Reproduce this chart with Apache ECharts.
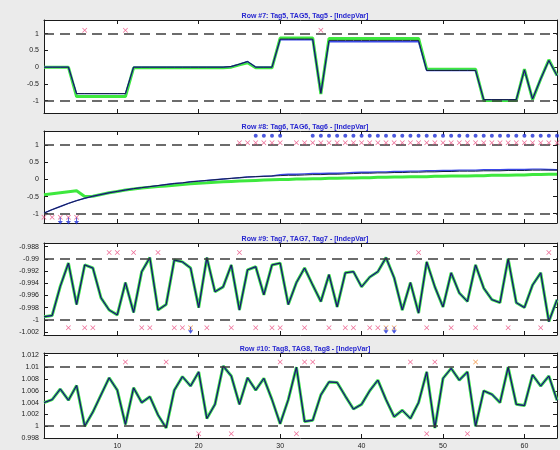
<!DOCTYPE html>
<html><head><meta charset="utf-8">
<script src="https://cdn.jsdelivr.net/npm/echarts@6/dist/echarts.min.js"></script>
<style>html,body{margin:0;padding:0;background:#ebebeb}#c{width:560px;height:450px}</style>
</head><body><div id="c"></div>
<script>
const titles = ['Row #7: Tag5, TAG5, Tag5 - [IndepVar]','Row #8: Tag6, TAG6, Tag6 - [IndepVar]','Row #9: Tag7, TAG7, Tag7 - [IndepVar]','Row #10: Tag8, TAG8, Tag8 - [IndepVar]'];
const xIndex = [1,2,3,4,5,6,7,8,9,10,11,12,13,14,15,16,17,18,19,20,21,22,23,24,25,26,27,28,29,30,31,32,33,34,35,36,37,38,39,40,41,42,43,44,45,46,47,48,49,50,51,52,53,54,55,56,57,58,59,60,61,62,63,64];
const xTicks = [10,20,30,40,50,60];
const yTicks7 = [-1,-0.5,0,0.5,1];
const yTicks8 = [-1,-0.5,0,0.5,1];
const yTicks9 = [-1.002,-1,-0.998,-0.996,-0.994,-0.992,-0.99,-0.988];
const yTicks10 = [0.998,1,1.002,1.004,1.006,1.008,1.01,1.012];
const limits7 = [-1,1], limits8 = [-1,1], limits9 = [-1,-0.99], limits10 = [1,1.01];

const row7Black = [0,0,0,0,-0.79,-0.79,-0.79,-0.79,-0.79,-0.79,-0.79,0,0,0,0,0,0,0,0,0,0,0,0,0.02,0.09,0.17,0,0,0,0.84,0.84,0.84,0.84,0.84,-0.78,0.8,0.8,0.8,0.8,0.8,0.8,0.8,0.8,0.8,0.8,0.8,0.8,-0.1,-0.1,-0.1,-0.1,-0.1,-0.1,-0.1,-0.97,-0.97,-0.97,-0.97,-0.97,-0.08,-0.95,-0.35,0.2,-0.25];
const row7Blue = [0,0,0,0,-0.79,-0.79,-0.79,-0.79,-0.79,-0.79,-0.79,0,0,0,0,0,0,0,0,0,0,0,0,0.02,0.09,0.17,0,0,0,0.82,0.82,0.82,0.82,0.82,-0.78,0.76,0.76,0.76,0.76,0.76,0.76,0.76,0.76,0.76,0.76,0.76,0.76,-0.1,-0.1,-0.1,-0.1,-0.1,-0.1,-0.1,-0.97,-0.97,-0.97,-0.97,-0.97,-0.08,-0.95,-0.35,0.2,-0.25];
const row7Green = [0,0,0,0,-0.88,-0.88,-0.88,-0.88,-0.88,-0.88,-0.88,-0.02,-0.02,-0.02,-0.02,-0.02,-0.02,-0.02,-0.02,-0.02,-0.02,-0.02,-0.02,0,0.07,0.13,-0.02,-0.02,-0.02,0.87,0.87,0.87,0.87,0.87,-0.8,0.86,0.86,0.86,0.86,0.86,0.86,0.86,0.86,0.86,0.86,0.86,0.86,-0.06,-0.06,-0.06,-0.06,-0.06,-0.06,-0.06,-1.0,-1.0,-1.0,-1.0,-1.0,-0.06,-0.97,-0.35,0.22,-0.25];

const row8Black = [-0.98,-0.88,-0.79,-0.7,-0.62,-0.55,-0.49,-0.44,-0.39,-0.35,-0.31,-0.27,-0.24,-0.21,-0.18,-0.15,-0.12,-0.1,-0.07,-0.05,-0.03,-0.01,0.01,0.03,0.05,0.07,0.08,0.09,0.1,0.11,0.12,0.12,0.13,0.14,0.14,0.15,0.15,0.16,0.17,0.18,0.18,0.19,0.19,0.2,0.2,0.21,0.21,0.22,0.22,0.23,0.23,0.24,0.24,0.24,0.25,0.25,0.25,0.26,0.26,0.26,0.27,0.27,0.27,0.27];
const row8Blue = [-0.98,-0.88,-0.79,-0.7,-0.62,-0.55,-0.49,-0.44,-0.39,-0.35,-0.31,-0.27,-0.24,-0.21,-0.18,-0.15,-0.12,-0.1,-0.07,-0.05,-0.03,-0.01,0.01,0.03,0.05,0.07,0.08,0.09,0.1,0.14,0.15,0.15,0.16,0.17,0.17,0.18,0.18,0.19,0.2,0.21,0.21,0.22,0.22,0.23,0.23,0.24,0.24,0.25,0.25,0.26,0.26,0.27,0.27,0.27,0.28,0.28,0.28,0.29,0.29,0.29,0.3,0.3,0.29,0.28];
const row8Green = [-0.45,-0.42,-0.39,-0.36,-0.33,-0.5,-0.49,-0.44,-0.39,-0.35,-0.31,-0.28,-0.25,-0.23,-0.21,-0.19,-0.17,-0.15,-0.13,-0.11,-0.1,-0.08,-0.07,-0.06,-0.05,-0.04,-0.03,-0.02,-0.01,0,0,0.01,0.01,0.02,0.02,0.03,0.03,0.04,0.04,0.05,0.05,0.06,0.06,0.07,0.07,0.08,0.08,0.08,0.09,0.09,0.1,0.1,0.1,0.11,0.11,0.12,0.12,0.12,0.13,0.13,0.14,0.14,0.15,0.15];

const row9 = [-0.9995,-0.9993,-0.9945,-0.9907,-0.9975,-0.991,-0.9915,-0.9964,-0.9984,-0.9992,-0.9939,-0.9988,-0.9921,-0.9898,-0.9984,-0.9975,-0.9902,-0.9905,-0.9915,-0.998,-0.9898,-0.9954,-0.9946,-0.991,-0.9984,-0.9918,-0.9913,-0.9959,-0.991,-0.9907,-0.9975,-0.9939,-0.9915,-0.9943,-0.997,-0.9926,-0.9979,-0.9923,-0.9921,-0.9946,-0.993,-0.9921,-0.9898,-0.9931,-0.9984,-0.9939,-0.9989,-0.9905,-0.9946,-0.9979,-0.9923,-0.9956,-0.997,-0.991,-0.9948,-0.9967,-0.9972,-0.99,-0.9972,-0.998,-0.9943,-0.9923,-1.0003,-0.9967];
const row10 = [1.004,1.0045,1.0063,1.0044,1.0069,1.0,1.0024,1.0053,1.0082,1.0061,1.0003,1.0065,1.004,1.005,1.0019,0.9997,1.0061,1.0084,1.0068,1.0092,1.0013,1.0037,1.0102,1.0085,1.0037,1.0082,1.0061,1.0081,1.0045,1.0004,1.0045,1.01,1.0008,1.001,1.0053,1.0075,1.0074,1.0051,1.0029,1.0037,1.006,1.0078,1.0045,1.0016,1.0027,1.0013,1.004,1.0092,0.9997,1.0081,1.0098,1.0078,1.0092,1.0,1.006,1.0054,1.004,1.01,1.0037,1.0035,1.0087,1.0068,1.0085,1.0044];

// marker positions (x index) and their levels
const m7RedTop = [6,11,35], m7RedTopLevel = 1.1;
const m8RedTop = [25,26,27,28,29,30,32,33,34,35,36,37,38,39,40,41,42,43,44,45,46,47,48,49,50,51,52,53,54,55,56,57,58,59,60,61,62,63,64], m8RedTopLevel = 1.07;
const m8BlueTop = [27,28,29,30,34,35,36,37,38,39,40,41,42,43,44,45,46,47,48,49,50,51,52,53,54,55,56,57,58,59,60,61,62,63,64], m8BlueTopLevel = 1.27;
const m8RedBot = [1,2,3,4,5], m8RedBotLevel = -1.1;
const m8BlueBot = [3,4,5], m8BlueBotLevel = -1.21;
const m9RedTop = [9,10,12,15,25,47,63], m9RedTopLevel = -0.98896;
const m9RedBot = [4,6,7,13,14,17,18,21,24,27,29,30,33,36,38,39,41,42,48,51,54,58,62], m9RedBotLevel = -1.0013;
const m9OrangeBot = [19,43,44];
const m9BlueBot = [19,43,44], m9BlueBotLevel = -1.0017;
const m10RedTop = [11,16,30,33,34,46,49], m10RedTopLevel = 1.01086;
const m10OrangeTop = [54];
const m10RedBot = [20,24,32,48,53], m10RedBotLevel = 0.9987;

const panels = [
  {top:20, height:93, min:-1.37, max:1.41, yTicks:yTicks7, lim:limits7,
   lines:[row7Green,row7Blue,row7Black],
   marks:[{xs:m7RedTop,lv:m7RedTopLevel,k:'red'}]},
  {top:131, height:92, min:-1.27, max:1.41, yTicks:yTicks8, lim:limits8,
   lines:[row8Green,row8Blue,row8Black],
   marks:[{xs:m8RedTop,lv:m8RedTopLevel,k:'red'},{xs:m8BlueTop,lv:m8BlueTopLevel,k:'dot'},{xs:m8RedBot,lv:m8RedBotLevel,k:'red'},{xs:m8BlueBot,lv:m8BlueBotLevel,k:'arrow'}]},
  {top:243, height:92, min:-1.0025, max:-0.9874, yTicks:yTicks9, lim:limits9,
   lines:[row9,row9,row9],
   marks:[{xs:m9RedTop,lv:m9RedTopLevel,k:'red'},{xs:m9RedBot,lv:m9RedBotLevel,k:'red'},{xs:m9OrangeBot,lv:m9RedBotLevel,k:'orange'},{xs:m9BlueBot,lv:m9BlueBotLevel,k:'arrow'}]},
  {top:353, height:89, min:0.998, max:1.0124, yTicks:yTicks10, lim:limits10,
   lines:[row10,row10,row10],
   marks:[{xs:m10RedTop,lv:m10RedTopLevel,k:'red'},{xs:m10OrangeTop,lv:m10RedTopLevel,k:'orange'},{xs:m10RedBot,lv:m10RedBotLevel,k:'red'}]}
];

const crossPath = 'path://M0,1L1,0L5,4L9,0L10,1L6,5L10,9L9,10L5,6L1,10L0,9L4,5Z';
const arrowPath = 'path://M4,0L6,0L6,6L10,6L5,12L0,6L4,6Z';
const markStyle = {
  red:{symbol:crossPath, symbolSize:5, color:'#e8457a'},
  orange:{symbol:crossPath, symbolSize:5, color:'#f08a30'},
  dot:{symbol:'circle', symbolSize:4, color:'#1f2fd6'},
  arrow:{symbol:arrowPath, symbolSize:[5,7], color:'#1f2fd6'}
};
const lineColors = ['#3ee83e','#3a48e8','#142040'];
const lineWidths = [3,1.4,1];
const axisColor = '#1a1a1a';
const font = 'Liberation Sans, Arial, sans-serif';

const grid=[], xAxis=[], yAxis=[], series=[], title=[];
panels.forEach((p,i)=>{
  grid.push({left:44, right:3, top:p.top, height:p.height, show:true, backgroundColor:'#ffffff', borderWidth:0, containLabel:false});
  title.push({text:titles[i], left:300, textAlign:'center', top:p.top-12,
    textStyle:{fontSize:7, fontWeight:'bold', color:'#2626d0', fontFamily:font}});
  ['bottom','top'].forEach((pos,j)=>{
    xAxis.push({type:'value', gridIndex:i, position:pos, min:1, max:64,
      axisLine:{show:true, onZero:false, lineStyle:{color:axisColor, width:1}},
      axisTick:{show:true, inside:true, length:4, customValues:xTicks, lineStyle:{color:axisColor}},
      axisLabel:{show:(i===3 && j===0), customValues:xTicks, fontSize:7, margin:5, color:'#222', fontFamily:font},
      splitLine:{show:false}});
  });
  ['left','right'].forEach((pos,j)=>{
    yAxis.push({type:'value', gridIndex:i, position:pos, min:p.min, max:p.max,
      axisLine:{show:true, onZero:false, lineStyle:{color:axisColor, width:1}},
      axisTick:{show:true, inside:true, length:4, customValues:p.yTicks, lineStyle:{color:axisColor}},
      axisLabel:{show:j===0, customValues:p.yTicks, fontSize:7, margin:5, color:'#222', fontFamily:font},
      splitLine:{show:false}});
  });
  p.lines.forEach((arr,k)=>{
    const s = {type:'line', xAxisIndex:2*i, yAxisIndex:2*i, data:xIndex.map((x,n)=>[x,arr[n]]),
      showSymbol:false, symbol:'none', lineStyle:{color:lineColors[k], width:lineWidths[k]}, z:2+k, silent:true};
    if(k===0){
      s.markLine = {silent:true, symbol:['none','none'], label:{show:false}, animation:false,
        lineStyle:{color:'#3c3c3c', type:[10,6], width:1.7},
        data:p.lim.map(v=>({yAxis:v}))};
    }
    series.push(s);
  });
  p.marks.forEach(m=>{
    const st = markStyle[m.k];
    series.push({type:'scatter', xAxisIndex:2*i, yAxisIndex:2*i, data:m.xs.map(x=>[x,m.lv]),
      symbol:st.symbol, symbolSize:st.symbolSize, itemStyle:{color:st.color}, z:6, silent:true});
  });
});

const chart = echarts.init(document.getElementById('c'), null, {renderer:'canvas'});
chart.setOption({animation:false, backgroundColor:'#ebebeb', title, grid, xAxis, yAxis, series});
</script></body></html>
